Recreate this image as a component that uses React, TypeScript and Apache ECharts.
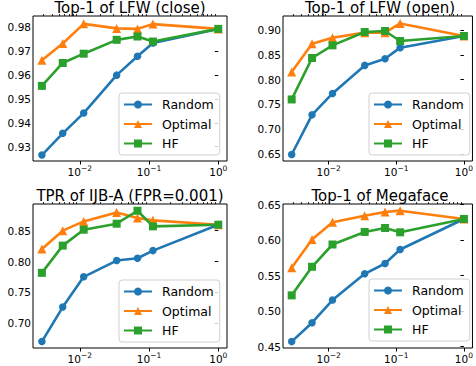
import React, { useEffect, useRef } from 'react';
import * as echarts from 'echarts';

// x values (fraction of data)
const xFractions = [0.00284, 0.00568, 0.0114, 0.0341, 0.0682, 0.114, 1];

const seriesNames = ['Random', 'Optimal', 'HF'];

const lfwCloseRandom = [0.9265, 0.9356, 0.9441, 0.96, 0.9679, 0.9735, 0.9794];
const lfwCloseOptimal = [0.9662, 0.9733, 0.9815, 0.9796, 0.9794, 0.9814, 0.9794];
const lfwCloseHF = [0.9555, 0.9651, 0.969, 0.9748, 0.9762, 0.9741, 0.9794];

const lfwOpenRandom = [0.6486, 0.729, 0.7723, 0.829, 0.8426, 0.8649, 0.8885];
const lfwOpenOptimal = [0.8155, 0.873, 0.8851, 0.8953, 0.8953, 0.914, 0.8885];
const lfwOpenHF = [0.7601, 0.844, 0.8696, 0.8966, 0.8986, 0.8784, 0.8885];

const ijbaRandom = [0.6704, 0.7263, 0.7753, 0.8016, 0.8054, 0.8177, 0.8597];
const ijbaOptimal = [0.8204, 0.85, 0.865, 0.8796, 0.8704, 0.8667, 0.8597];
const ijbaHF = [0.7817, 0.8258, 0.8516, 0.8613, 0.8823, 0.857, 0.8597];

const megaRandom = [0.457, 0.4837, 0.5156, 0.5526, 0.5671, 0.5868, 0.6299];
const megaOptimal = [0.561, 0.6008, 0.6252, 0.6345, 0.6397, 0.6416, 0.6299];
const megaHF = [0.5222, 0.5625, 0.5939, 0.6116, 0.6172, 0.6111, 0.6299];

const titles = [
  'Top-1 of LFW (close)',
  'Top-1 of LFW (open)',
  'TPR of IJB-A (FPR=0.001)',
  'Top-1 of Megaface',
];

const yTicks1 = [0.93, 0.94, 0.95, 0.96, 0.97, 0.98];
const yTicks2 = [0.65, 0.7, 0.75, 0.8, 0.85, 0.9];
const yTicks3 = [0.7, 0.75, 0.8, 0.85];
const yTicks4 = [0.45, 0.5, 0.55, 0.6, 0.65];

const xMajorTicks = [0.01, 0.1, 1];
const xMinorTicks = [
  0.003, 0.004, 0.005, 0.006, 0.007, 0.008, 0.009,
  0.02, 0.03, 0.04, 0.05, 0.06, 0.07, 0.08, 0.09,
  0.2, 0.3, 0.4, 0.5, 0.6, 0.7, 0.8, 0.9,
];

const colors = ['#1f77b4', '#ff7f0e', '#2ca02c'];
const symbols = ['circle', 'triangle', 'rect'];
const symbolSizes = [7.5, 9, 8];

const FONT = 'DejaVu Sans';

type Panel = {
  title: string;
  data: number[][];
  yTicks: number[];
  yMin: number;
  yMax: number;
  grid: { left: number; top: number; width: number; height: number };
  legend: { left: number; top: number };
};

const panels: Panel[] = [
  {
    title: titles[0],
    data: [lfwCloseRandom, lfwCloseOptimal, lfwCloseHF],
    yTicks: yTicks1,
    yMin: 0.924,
    yMax: 0.9848,
    grid: { left: 33, top: 16, width: 194, height: 145 },
    legend: { left: 119, top: 93 },
  },
  {
    title: titles[1],
    data: [lfwOpenRandom, lfwOpenOptimal, lfwOpenHF],
    yTicks: yTicks2,
    yMin: 0.6355,
    yMax: 0.929,
    grid: { left: 283, top: 16, width: 195, height: 145 },
    legend: { left: 369, top: 93 },
  },
  {
    title: titles[2],
    data: [ijbaRandom, ijbaOptimal, ijbaHF],
    yTicks: yTicks3,
    yMin: 0.66,
    yMax: 0.8932,
    grid: { left: 33, top: 204, width: 194, height: 144 },
    legend: { left: 119, top: 280 },
  },
  {
    title: titles[3],
    data: [megaRandom, megaOptimal, megaHF],
    yTicks: yTicks4,
    yMin: 0.448,
    yMax: 0.651,
    grid: { left: 283, top: 204, width: 195, height: 144 },
    legend: { left: 369, top: 279 },
  },
];

const xLogMin = -2.675;
const xLogMax = 0.126;

function supLabel(v: number) {
  const e = Math.round(v);
  const s = e === 0 ? '0' : '\u2212' + String(-e);
  return '10{s|' + s + '}';
}

export default function App() {
  const ref = useRef<HTMLDivElement>(null);
  useEffect(() => {
    document.body.style.margin = '0';
    if (!ref.current) return;
    const chart = echarts.init(ref.current, undefined, { renderer: 'svg' });

    const grids: any[] = [];
    const xAxes: any[] = [];
    const yAxes: any[] = [];
    const series: any[] = [];
    const titleOpts: any[] = [];
    const legends: any[] = [];

    panels.forEach((p, pi) => {
      grids.push({
        ...p.grid,
        show: true,
        borderColor: '#000',
        borderWidth: 1,
        backgroundColor: 'transparent',
        containLabel: false,
      });
      // major x axis
      xAxes.push({
        type: 'value',
        gridIndex: pi,
        min: xLogMin,
        max: xLogMax,
        splitLine: { show: false },
        axisLine: { show: false },
        axisTick: {
          show: true,
          length: 3.5,
          lineStyle: { color: '#000', width: 1 },
          customValues: xMajorTicks.map((v) => Math.log10(v)),
        },
        axisLabel: {
          show: true,
          margin: 3,
          customValues: xMajorTicks.map((v) => Math.log10(v)),
          formatter: (v: number) => supLabel(v),
          color: '#000',
          fontFamily: FONT,
          fontSize: 10.5,
          rich: {
            s: {
              fontSize: 7.5,
              fontFamily: FONT,
              color: '#000',
              padding: [0, 0, 7, 0],
            },
          },
        },
      });
      // minor x ticks
      xAxes.push({
        type: 'value',
        gridIndex: pi,
        min: xLogMin,
        max: xLogMax,
        splitLine: { show: false },
        axisLine: { show: false },
        axisTick: {
          show: true,
          length: 2,
          lineStyle: { color: '#000', width: 0.8 },
          customValues: xMinorTicks.map((v) => Math.log10(v)),
        },
        axisLabel: { show: false },
      });
      yAxes.push({
        type: 'value',
        gridIndex: pi,
        min: p.yMin,
        max: p.yMax,
        splitLine: { show: false },
        axisLine: { show: false },
        axisTick: {
          show: true,
          length: 3.5,
          lineStyle: { color: '#000', width: 1 },
          customValues: p.yTicks,
        },
        axisLabel: {
          show: true,
          margin: 2,
          customValues: p.yTicks,
          formatter: (v: number) => v.toFixed(2),
          color: '#000',
          fontFamily: FONT,
          fontSize: 10.5,
        },
      });
      p.data.forEach((ys, si) => {
        series.push({
          type: 'line',
          name: seriesNames[si],
          xAxisIndex: pi * 2,
          yAxisIndex: pi,
          data: xFractions.map((x, i) => [Math.log10(x), ys[i]]),
          symbol: symbols[si],
          symbolSize: symbolSizes[si],
          showSymbol: true,
          color: colors[si],
          lineStyle: { color: colors[si], width: 2.6 },
          itemStyle: { color: colors[si], borderColor: colors[si], borderWidth: 0 },
          emphasis: { disabled: true },
          z: 2 + si,
        });
      });
      titleOpts.push({
        text: p.title,
        left: p.grid.left + 97,
        top: 0 + (pi >= 2 ? 188 : 0),
        textAlign: 'center',
        padding: 0,
        textStyle: {
          fontFamily: FONT,
          fontSize: 15,
          fontWeight: 'normal',
          color: '#000',
        },
      });
      legends.push({
        data: seriesNames,
        orient: 'vertical',
        left: p.legend.left,
        top: p.legend.top,
        itemWidth: 28,
        itemHeight: 10,
        itemGap: 6.5,
        padding: [5, 6, 5, 4],
        borderColor: '#d0d0d0',
        borderWidth: 1,
        borderRadius: 3,
        backgroundColor: 'rgba(255,255,255,0.8)',
        selectedMode: false,
        textStyle: {
          fontFamily: FONT,
          fontSize: 12.5,
          color: '#000',
          padding: [0, 0, 0, 5],
        },
      });
    });

    chart.setOption({
      animation: false,
      backgroundColor: '#fff',
      title: titleOpts,
      legend: legends,
      grid: grids,
      xAxis: xAxes,
      yAxis: yAxes,
      series,
    });
    return () => chart.dispose();
  }, []);
  return <div ref={ref} style={{ width: 476, height: 366 }} />;
}
